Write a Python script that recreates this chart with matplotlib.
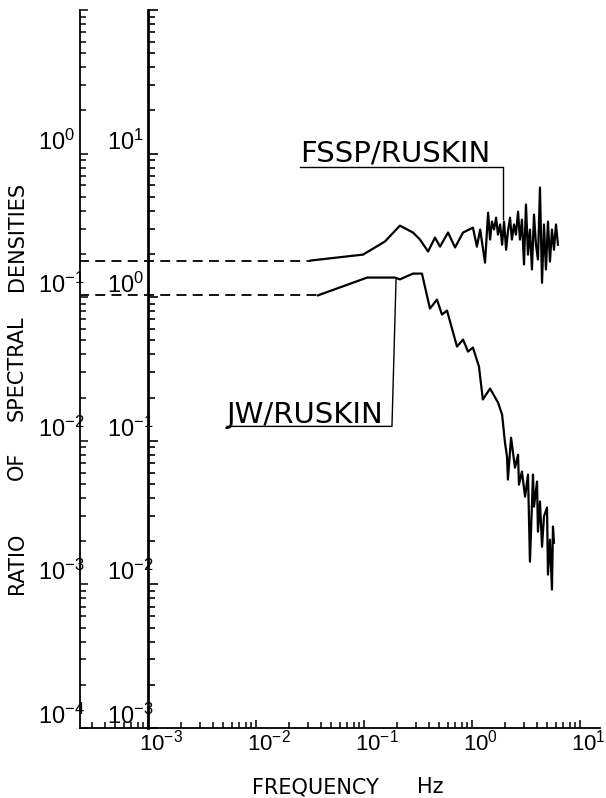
import matplotlib
matplotlib.use('Agg')
import matplotlib.pyplot as plt
from matplotlib import transforms
from matplotlib.ticker import LogLocator, NullFormatter

plt.rcParams['mathtext.fontset'] = 'custom'
plt.rcParams['mathtext.rm'] = 'Liberation Sans'

# low-frequency (dashed) levels
fssp_base_f = [2.3e-4, 0.032]
fssp_base_r = [0.18, 0.18]
jw_base_f = [2.3e-4, 0.0375]
jw_base_r = [1.03, 1.03]

# FSSP / RUSKIN  (left scale)
fssp_f = [0.032, 0.098, 0.156, 0.215, 0.284, 0.330, 0.392, 0.454, 0.506, 0.600,
          0.697, 0.826, 1.02, 1.11, 1.19, 1.32, 1.41, 1.47, 1.53, 1.60,
          1.67, 1.74, 1.82, 1.90, 1.98, 2.07, 2.15, 2.25, 2.34, 2.45,
          2.55, 2.67, 2.78, 2.90, 3.03, 3.16, 3.30, 3.44, 3.59, 3.75,
          3.91, 4.08, 4.26, 4.45, 4.64, 4.84, 5.05, 5.27, 5.50, 5.74,
          5.99, 6.25]
fssp_r = [0.18, 0.198, 0.244, 0.315, 0.282, 0.252, 0.208, 0.260, 0.225, 0.282,
          0.222, 0.282, 0.305, 0.225, 0.296, 0.174, 0.388, 0.252, 0.336, 0.296,
          0.358, 0.273, 0.321, 0.232, 0.336, 0.214, 0.286, 0.358, 0.252, 0.321,
          0.273, 0.394, 0.252, 0.347, 0.169, 0.442, 0.198, 0.296, 0.156, 0.376,
          0.232, 0.183, 0.58, 0.126, 0.321, 0.156, 0.336, 0.177, 0.296, 0.214,
          0.321, 0.232]

# JW / RUSKIN  (right scale)
jw_f = [0.0375, 0.107, 0.194, 0.215, 0.284, 0.344, 0.408, 0.474, 0.527, 0.587,
        0.726, 0.826, 0.918, 1.02, 1.16, 1.26, 1.47, 1.74, 1.90, 2.02,
        2.11, 2.15, 2.30, 2.50, 2.67, 2.72, 2.90, 3.10, 3.30, 3.44,
        3.67, 3.75, 4.00, 4.08, 4.26, 4.45, 4.64, 4.95, 5.05, 5.27,
        5.50, 5.62, 5.74]
jw_r = [1.03, 1.37, 1.37, 1.33, 1.46, 1.46, 0.833, 0.962, 0.757, 0.807,
        0.453, 0.507, 0.418, 0.446, 0.329, 0.194, 0.231, 0.185, 0.152, 0.097,
        0.0776, 0.0537, 0.105, 0.065, 0.080, 0.0495, 0.061, 0.0408, 0.0582, 0.0144,
        0.0582, 0.0348, 0.052, 0.0233, 0.0378, 0.0183, 0.0297, 0.0343, 0.0117, 0.0205,
        0.0092, 0.0253, 0.0195]

left_ticks = [1e-4, 1e-3, 1e-2, 1e-1, 1e0]
left_labels = ['-4', '-3', '-2', '-1', '0']
right_ticks = [1e-3, 1e-2, 1e-1, 1e0, 1e1]
right_labels = ['-3', '-2', '-1', '0', '1']
x_ticks = [1e-3, 1e-2, 1e-1, 1e0, 1e1]
x_labels = ['-3', '-2', '-1', '0', '1']

# y title words, top to bottom (pixel centre rows)
ytitle_words = ['DENSITIES', 'SPECTRAL', 'OF', 'RATIO']
ytitle_rows = [236, 368, 466, 563]

W, H = 606, 798
fig = plt.figure(figsize=(W / 100, H / 100), dpi=100)
rect = [80 / W, (H - 728) / H, 520 / W, 718 / H]
ax = fig.add_axes(rect)
ax2 = fig.add_axes(rect)
ax2.patch.set_visible(False)

xmin, xmax = 10 ** (-3 - 68 / 108), 10 ** (-3 + 452 / 108)
for a in (ax, ax2):
    a.set_xscale('log')
    a.set_yscale('log')
    a.set_xlim(xmin, xmax)
ax.set_ylim(1e-4, 1e1)
ax2.set_ylim(1e-3, 1e2)

for s in ('top', 'right'):
    ax.spines[s].set_visible(False)
ax.spines['left'].set_linewidth(1.3)
ax.spines['bottom'].set_linewidth(1.3)
for s in ('top', 'right', 'bottom'):
    ax2.spines[s].set_visible(False)
ax2.spines['left'].set_position(('axes', 68 / 520))
ax2.spines['left'].set_linewidth(2.0)

ax.xaxis.set_major_locator(LogLocator(base=10, numticks=20))
ax.xaxis.set_minor_locator(LogLocator(base=10, subs=range(2, 10), numticks=20))
ax.yaxis.set_minor_locator(LogLocator(base=10, subs=range(2, 10), numticks=20))
ax2.yaxis.set_minor_locator(LogLocator(base=10, subs=range(2, 10), numticks=20))
for a in (ax, ax2):
    a.xaxis.set_minor_formatter(NullFormatter())
    a.yaxis.set_minor_formatter(NullFormatter())
ax.tick_params(which='both', direction='in', labelleft=False, labelbottom=False,
               width=1.1)
ax.tick_params(which='major', length=6)
ax.tick_params(which='minor', length=4)
ax2.tick_params(which='both', direction='in', labelleft=False, labelbottom=False,
                bottom=False, width=1.2)
ax2.tick_params(which='major', length=7)
ax2.tick_params(which='minor', length=5)

# curves
ax.plot(fssp_base_f, fssp_base_r, color='black', lw=1.3, dashes=(5.5, 3.5))
ax.plot(fssp_f, fssp_r, color='black', lw=1.6)
ax2.plot(jw_base_f, jw_base_r, color='black', lw=1.3, dashes=(5.5, 3.5))
ax2.plot(jw_f, jw_r, color='black', lw=1.6)

# tick labels
lab_kw = dict(fontsize=17, ha='left', va='baseline')
tl = transforms.offset_copy(ax.get_yaxis_transform(), fig=fig, x=0, y=4, units='dots')
for v, e in zip(left_ticks, left_labels):
    ax.text(-42 / 520, v, r'$\mathrm{10^{%s}}$' % e, transform=tl, **lab_kw)
tr = transforms.offset_copy(ax2.get_yaxis_transform(), fig=fig, x=0, y=4, units='dots')
for v, e in zip(right_ticks, right_labels):
    ax2.text(27 / 520, v, r'$\mathrm{10^{%s}}$' % e, transform=tr, **lab_kw)
tx = transforms.offset_copy(ax.get_xaxis_transform(), fig=fig, x=-9, y=0, units='dots')
for v, e in zip(x_ticks, x_labels):
    ax.text(v, -22 / 718, r'$\mathrm{10^{%s}}$' % e, transform=tx,
            fontsize=16, ha='left', va='baseline')

# curve labels with leader lines
ax.text(0.0255, 0.88, 'FSSP/RUSKIN', fontsize=21, ha='left', va='baseline')
ax.plot([0.0255, 1.94, 1.94], [0.81, 0.81, 0.35], color='black', lw=1.0)
ax2.text(0.00538, 0.134, 'JW/RUSKIN', fontsize=21, ha='left', va='baseline')
ax2.plot([0.00538, 0.1815, 0.198], [0.126, 0.126, 1.33], color='black', lw=1.0)

# axis titles
for word, row in zip(ytitle_words, ytitle_rows):
    fig.text(17 / W, 1 - row / H, word, rotation=90, ha='center', va='center',
             fontsize=15)
fig.text(252 / W, 1 - 793 / H, 'FREQUENCY', fontsize=15, ha='left', va='baseline')
fig.text(417 / W, 1 - 793 / H, 'Hz', fontsize=15, ha='left', va='baseline')

fig.savefig('out.png', dpi=100)
